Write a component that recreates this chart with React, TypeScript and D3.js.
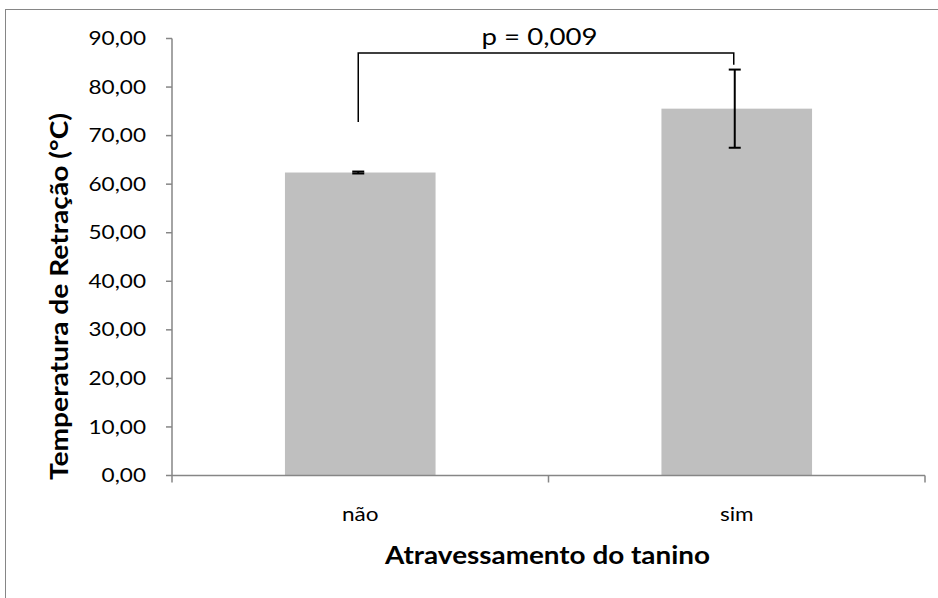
import React from "react";
import * as d3 from "d3";

const categories = ["não", "sim"];
const means = [62.4, 75.55];
const errors = [0.2, 8.05];
const yTicks = [0, 10, 20, 30, 40, 50, 60, 70, 80, 90];
const bracketTops = [72.8, 84.6];
const bracketLevel = 87;
const pLabel = "p = 0,009";
const yTitle = "Temperatura de Retração (°C)";
const xTitle = "Atravessamento do tanino";

const W = 938;
const H = 598;
const left = 172;
const right = 925;
const top = 38.5;
const bottom = 475.5;
const font = "Lato, 'Open Sans', sans-serif";
const axisColor = "#868686";
const sx = 1.22;

export default function App() {
  const x = d3.scaleBand<string>().domain(categories).range([left, right]).paddingInner(0.6).paddingOuter(0.3);
  const step = x.step();
  const y = d3.scaleLinear().domain([0, 90]).range([bottom, top]);
  const fmt = (v: number) => v.toFixed(2).replace(".", ",");
  const cx = (c: string) => (x(c) as number) + x.bandwidth() / 2;
  const boundaries = [left, left + step, right];

  return (
    <svg width={W} height={H} style={{ position: "absolute", left: 0, top: 0, background: "#fff" }}>
      <rect x={5.5} y={9.5} width={1000} height={1000} fill="none" stroke={axisColor} strokeWidth={1} />
      {categories.map((c, i) => (
        <rect key={c} x={x(c)} y={y(means[i])} width={x.bandwidth()} height={bottom - y(means[i])} fill="#bfbfbf" />
      ))}
      {/* y axis */}
      <line x1={left} x2={left} y1={top} y2={bottom} stroke={axisColor} strokeWidth={1.5} />
      {yTicks.map((t) => (
        <g key={t}>
          <line x1={left - 6} x2={left} y1={y(t)} y2={y(t)} stroke={axisColor} strokeWidth={1.5} />
          <g transform={`translate(146,${y(t) + 6.6}) scale(${sx},1)`}>
            <text x={0} y={0} textAnchor="end" fontFamily={font} fontSize={18.5} fill="#000">
              {fmt(t)}
            </text>
          </g>
        </g>
      ))}
      {/* x axis */}
      <line x1={left} x2={right} y1={bottom} y2={bottom} stroke={axisColor} strokeWidth={1.5} />
      {boundaries.map((b, i) => (
        <line key={i} x1={b} x2={b} y1={bottom} y2={bottom + 7} stroke={axisColor} strokeWidth={1.5} />
      ))}
      {categories.map((c) => (
        <g key={c} transform={`translate(${cx(c)},521) scale(${sx},1)`}>
          <text x={0} y={0} textAnchor="middle" fontFamily={font} fontSize={18.5} fill="#000">
            {c}
          </text>
        </g>
      ))}
      {/* error bars */}
      {categories.map((c, i) => {
        const xc = cx(c) - 2;
        const y1 = y(means[i] + errors[i]);
        const y2 = y(means[i] - errors[i]);
        return (
          <g key={c} stroke="#000" strokeWidth={2}>
            <line x1={xc} x2={xc} y1={y1} y2={y2} />
            <line x1={xc - 6} x2={xc + 6} y1={y1} y2={y1} />
            <line x1={xc - 6} x2={xc + 6} y1={y2} y2={y2} />
          </g>
        );
      })}
      {/* significance bracket */}
      <path
        d={`M${cx(categories[0]) - 2},${y(bracketTops[0])}V${y(bracketLevel)}H${cx(categories[1]) - 3}V${y(bracketTops[1])}`}
        fill="none"
        stroke="#000"
        strokeWidth={1.5}
      />
      <text
        x={539.5}
        y={45}
        textAnchor="middle"
        fontFamily={font}
        fontSize={22.5}
        textLength={116}
        lengthAdjust="spacingAndGlyphs"
        fill="#000"
      >
        {pLabel}
      </text>
      <text
        transform={`translate(68,296.5) rotate(-90)`}
        textAnchor="middle"
        fontFamily={font}
        fontSize={24}
        fontWeight="bold"
        textLength={367}
        lengthAdjust="spacingAndGlyphs"
        fill="#000"
      >
        {yTitle}
      </text>
      <text
        x={547.5}
        y={564.3}
        textAnchor="middle"
        fontFamily={font}
        fontSize={24}
        fontWeight="bold"
        textLength={325}
        lengthAdjust="spacingAndGlyphs"
        fill="#000"
      >
        {xTitle}
      </text>
    </svg>
  );
}
